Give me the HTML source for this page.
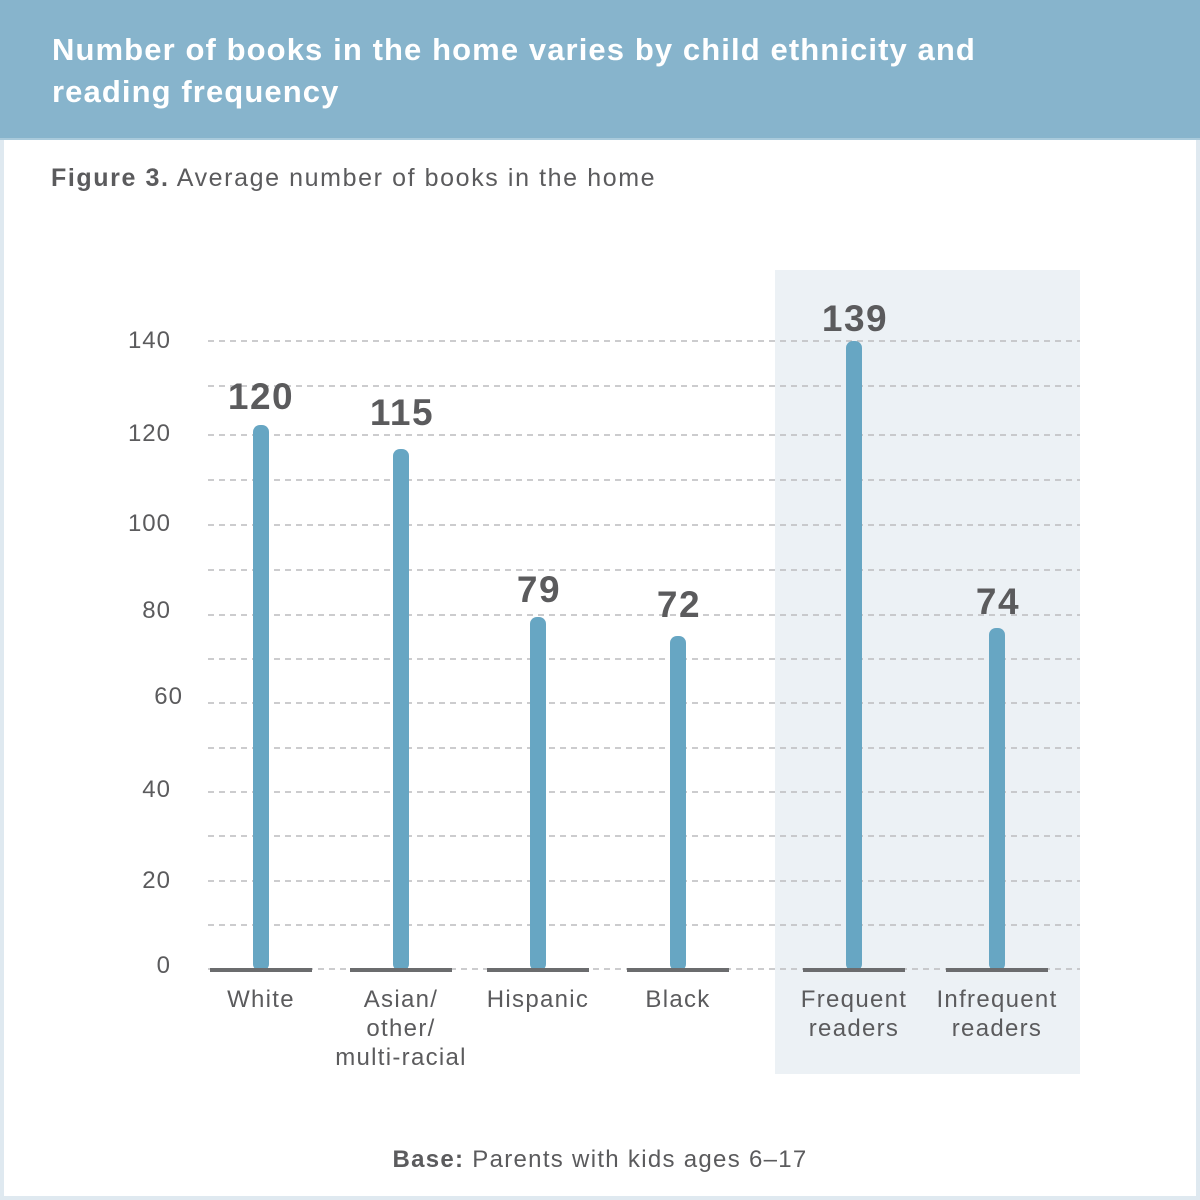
<!DOCTYPE html>
<html><head><meta charset="utf-8"><style>
body{margin:0;width:1200px;height:1200px;background:#dfe9f0;position:relative;overflow:hidden;font-family:"Liberation Sans",sans-serif;color:#5b5b5d}
#main{position:absolute;left:4px;top:0;width:1192px;height:1196px;background:#fff}
#hdr{position:absolute;left:0;top:0;width:1200px;height:140px;background:#87b4cc;border-bottom:2px solid #a9cadb;box-sizing:border-box}
#hdr div{position:absolute;left:52px;top:29px;color:#fff;font-size:31px;line-height:42px;font-weight:bold;letter-spacing:1.1px}
.t{position:absolute;white-space:nowrap}
</style></head><body>
<div id="main"></div>
<div id="hdr"><div>Number of books in the home varies by child ethnicity and<br>reading frequency</div></div>
<div class="t" style="left:51px;top:164px;font-size:25px;letter-spacing:1.6px"><b>Figure 3.</b> Average number of books in the home</div>
<svg width="1200" height="1200" style="position:absolute;left:0;top:0">
<rect x="775" y="270" width="305" height="804" fill="#ecf1f5"/>
<g stroke="#bbbcbe" stroke-width="1.5" stroke-dasharray="6,5">
<line x1="208" x2="1080" y1="341" y2="341"/><line x1="208" x2="1080" y1="386" y2="386"/>
<line x1="208" x2="1080" y1="435" y2="435"/><line x1="208" x2="1080" y1="480" y2="480"/>
<line x1="208" x2="1080" y1="525" y2="525"/><line x1="208" x2="1080" y1="570" y2="570"/>
<line x1="208" x2="1080" y1="615" y2="615"/><line x1="208" x2="1080" y1="659" y2="659"/>
<line x1="208" x2="1080" y1="703" y2="703"/><line x1="208" x2="1080" y1="748" y2="748"/>
<line x1="208" x2="1080" y1="792" y2="792"/><line x1="208" x2="1080" y1="836" y2="836"/>
<line x1="208" x2="1080" y1="881" y2="881"/><line x1="208" x2="1080" y1="925" y2="925"/>
<line x1="208" x2="1080" y1="969" y2="969"/>
</g>
<g fill="#67a6c3">
<rect x="253" y="425" width="16" height="546" rx="7"/>
<rect x="393" y="449" width="16" height="522" rx="7"/>
<rect x="530" y="617" width="16" height="354" rx="7"/>
<rect x="670" y="636" width="16" height="335" rx="7"/>
<rect x="846" y="341" width="16" height="630" rx="7"/>
<rect x="989" y="628" width="16" height="343" rx="7"/>
</g>
<g fill="#6b6c6e">
<rect x="210" y="968" width="102" height="4"/><rect x="350" y="968" width="102" height="4"/>
<rect x="487" y="968" width="102" height="4"/><rect x="627" y="968" width="102" height="4"/>
<rect x="803" y="968" width="102" height="4"/><rect x="946" y="968" width="102" height="4"/>
</g>
<g font-family="Liberation Sans,sans-serif" font-size="24" letter-spacing="1" fill="#5b5b5d" text-anchor="end">
<text x="171" y="348">140</text><text x="171" y="441">120</text><text x="171" y="531">100</text>
<text x="171" y="618">80</text><text x="183" y="704">60</text><text x="171" y="797">40</text>
<text x="171" y="888">20</text><text x="171" y="973">0</text>
</g>
<g font-family="Liberation Sans,sans-serif" font-size="37" font-weight="bold" letter-spacing="1.5" fill="#5b5b5d" text-anchor="middle">
<text x="261" y="409">120</text><text x="402" y="425">115</text><text x="539" y="602">79</text>
<text x="679" y="617">72</text><text x="855" y="331">139</text><text x="998" y="614">74</text>
</g>
<g font-family="Liberation Sans,sans-serif" font-size="24" letter-spacing="1.3" fill="#5b5b5d" text-anchor="middle">
<text x="261" y="1007">White</text>
<text x="401" y="1007">Asian/</text><text x="401" y="1036">other/</text><text x="401" y="1065">multi-racial</text>
<text x="538" y="1007">Hispanic</text><text x="678" y="1007">Black</text>
<text x="854" y="1007">Frequent</text><text x="854" y="1036">readers</text>
<text x="997" y="1007">Infrequent</text><text x="997" y="1036">readers</text>
<text x="600" y="1167"><tspan font-weight="bold">Base:</tspan> Parents with kids ages 6–17</text>
</g>
</svg>
</body></html>
